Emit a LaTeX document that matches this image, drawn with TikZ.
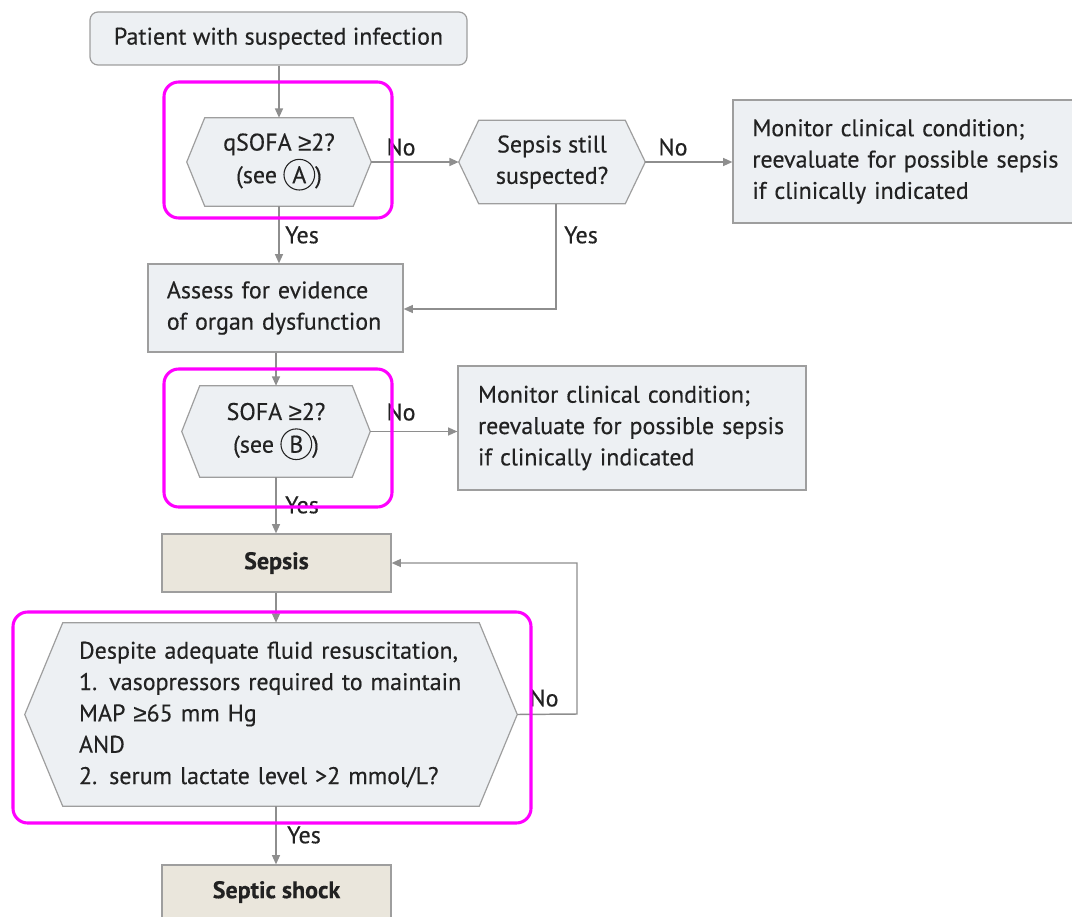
\documentclass[tikz,border=0pt]{standalone}
\usepackage{fontspec}
\setmainfont{PT Sans}[FakeBold=0.35]
\newfontfamily\relfont{Liberation Sans}[FakeBold=0.35]
\usetikzlibrary{arrows.meta,calc}
\definecolor{boxfill}{HTML}{EDF0F3}
\definecolor{beige}{HTML}{EAE6DC}
\definecolor{edge}{HTML}{9E9E9E}
\definecolor{wire}{HTML}{8E8E8E}
\definecolor{ink}{HTML}{222222}
\definecolor{hilite}{HTML}{FF00FF}
\pgfdeclarelayer{bg}
\pgfsetlayers{bg,main}

% greater-or-equal sign with a level bar
\newcommand{\atleast}{{\relfont ≥}}

% letter in a small circle, used for the score references
\newcommand{\circlet}[1]{\tikz[baseline=(L.base)]\node[circle,draw=ink,line width=0.8pt,inner sep=0pt,minimum size=23pt](L){#1};}

% hexagonal decision outline drawn behind a named node
\newcommand{\hexoutline}[2]{%
  \begin{pgfonlayer}{bg}
    \path[hexshape] (#1.north west) -- (#1.north east) -- ([xshift=#2]#1.east)
      -- (#1.south east) -- (#1.south west) -- ([xshift=-#2]#1.west) -- cycle;
  \end{pgfonlayer}%
  \coordinate (#1-r) at ([xshift=#2]#1.east);%
  \coordinate (#1-l) at ([xshift=-#2]#1.west);%
}

\begin{document}
\begin{tikzpicture}[x=0.75pt,y=-0.75pt,
  txt/.style={font=\fontsize{18}{23.5}\selectfont, text=ink},
  box/.style={txt, draw=edge, fill=boxfill, line width=0.9pt, inner sep=0pt},
  leftbox/.style={box, align=left},
  endbox/.style={txt, draw=edge, fill=beige, line width=0.9pt, inner sep=0pt, font=\fontsize{18}{23.5}\selectfont\bfseries},
  hexnode/.style={txt, inner sep=0pt, align=center},
  hexshape/.style={draw=edge, fill=boxfill, line width=0.9pt},
  flow/.style={draw=wire, line width=1.1pt, -{Triangle[length=7pt,width=6pt]}},
  lbl/.style={txt, inner sep=0pt},
  hl/.style={draw=hilite, line width=2.3pt, rounded corners=11pt}
]
\useasboundingbox (0,0) rectangle (1072,917);

% boxes
\node[box, rounded corners=6pt, minimum width=282.75pt, minimum height=39.75pt] (start) at (278.5,38.5) {Patient with suspected infection};

\node[hexnode, minimum width=111pt, minimum height=66pt] (qsofa) at (279,162) {qSOFA \atleast2?\\[1pt](see \circlet{A})};
\hexoutline{qsofa}{13.5pt}

\node[hexnode, minimum width=109.5pt, minimum height=62.25pt] (still) at (552,162) {Sepsis still\\suspected?};
\hexoutline{still}{15pt}

\node[leftbox, minimum width=264pt, minimum height=92.25pt, text width=235pt] (mon1) at (909,161.5)
  {Monitor clinical condition;\\reevaluate for possible sepsis\\if clinically indicated};

\node[leftbox, minimum width=191.25pt, minimum height=66pt, text width=163pt] (assess) at (275.5,308)
  {Assess for evidence\\of organ dysfunction};

\node[hexnode, minimum width=114pt, minimum height=68.25pt] (sofa) at (276,431.5) {SOFA \atleast2?\\[1pt](see \circlet{B})};
\hexoutline{sofa}{13.5pt}

\node[leftbox, minimum width=261pt, minimum height=93pt, text width=231pt] (mon2) at (632,428)
  {Monitor clinical condition;\\reevaluate for possible sepsis\\if clinically indicated};

\node[endbox, minimum width=171.75pt, minimum height=43.5pt] (sepsis) at (276.5,563) {Sepsis};

\node[hexnode, align=left, minimum width=312pt, minimum height=137.25pt, text width=288pt] (shockq) at (271,714.5)
  {Despite adequate fluid resuscitation,\\1. vasopressors required to maintain\\MAP \atleast65 mm Hg\\AND\\2. serum lactate level >2 mmol/L?};
\hexoutline{shockq}{28.5pt}

\node[endbox, minimum width=171.75pt, minimum height=40.5pt] (shock) at (276.5,892) {Septic shock};

% connectors
\draw[flow] (start.south -| qsofa.north) -- (qsofa.north);
\draw[flow] (qsofa-r) -- (still-l);
\draw[flow] (still-r) -- (still-r -| mon1.west);
\draw[flow] (qsofa.south) -- (qsofa.south |- assess.north);
\draw[flow] (556,0 |- still.south) -- (556,309) -- (assess.east |- 0,309);
\draw[flow] (assess.south -| sofa.north) -- (sofa.north);
\draw[flow] (sofa-r) -- (sofa-r -| mon2.west);
\draw[flow] (sofa.south) -- (sofa.south |- sepsis.north);
\draw[flow] (sepsis.south -| 276,0) -- (276,0 |- shockq.north);
\coordinate (loop) at (577,714);
\draw[flow] (shockq-r) -- (loop) -- (loop |- sepsis.east) -- (sepsis.east);
\draw[flow] (276,0 |- shockq.south) -- (276,0 |- shock.north);

% branch labels
\node[lbl] (no1) at (401,147) {No};
\node[lbl] (no2) at (673,147) {No};
\node[lbl] (yes1) at (302,235) {Yes};
\node[lbl] (yes2) at (581,235) {Yes};
\node[lbl] (no3) at (401,412) {No};
\node[lbl] (yes3) at (302,505) {Yes};
\node[lbl] (no4) at (544,698) {No};
\node[lbl] (yes4) at (304,835) {Yes};

% highlight frames
\draw[hl] (164,82) rectangle (392,218);
\draw[hl] (164,369) rectangle (392,507);
\draw[hl] (13,612) rectangle (531,823);
\end{tikzpicture}
\end{document}
